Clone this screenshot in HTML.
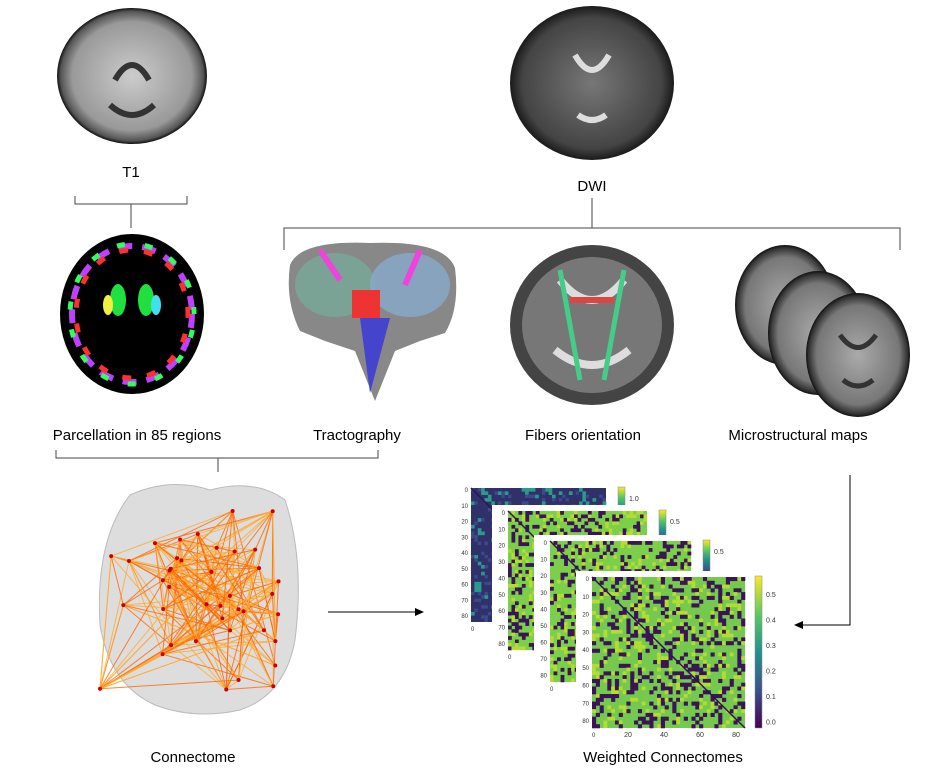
<!DOCTYPE html>
<html><head><meta charset="utf-8"><style>
body{margin:0;background:#fff;width:936px;height:775px;overflow:hidden;font-family:"Liberation Sans",sans-serif}
svg{position:absolute;left:0;top:0}
</style></head><body>
<svg id="s" width="936" height="775" viewBox="0 0 936 775" font-family="Liberation Sans, sans-serif">
<defs>
<radialGradient id="t1" cx="50%" cy="50%" r="50%"><stop offset="0" stop-color="#ccc"/><stop offset="0.8" stop-color="#999"/><stop offset="0.95" stop-color="#555"/><stop offset="1" stop-color="#111"/></radialGradient>
<radialGradient id="dwi" cx="50%" cy="50%" r="50%"><stop offset="0" stop-color="#777"/><stop offset="0.85" stop-color="#444"/><stop offset="1" stop-color="#1a1a1a"/></radialGradient>
<radialGradient id="ms" cx="50%" cy="50%" r="50%"><stop offset="0" stop-color="#aaa"/><stop offset="0.8" stop-color="#777"/><stop offset="0.95" stop-color="#333"/><stop offset="1" stop-color="#111"/></radialGradient>
<linearGradient id="cb" x1="0" y1="1" x2="0" y2="0"><stop offset="0" stop-color="#440154"/><stop offset="0.25" stop-color="#3b528b"/><stop offset="0.5" stop-color="#21918c"/><stop offset="0.75" stop-color="#5ec962"/><stop offset="1" stop-color="#fde725"/></linearGradient>
</defs>
<!-- T1 -->
<ellipse cx="132" cy="76" rx="75" ry="68" fill="url(#t1)"/>
<path d="M115 80 q17 -30 34 0 M110 105 q22 20 44 0" stroke="#333" stroke-width="6" fill="none"/>
<text x="131" y="177" font-size="15" text-anchor="middle">T1</text>
<path d="M75 196 v8 h112 v-8 M131 204 v24" stroke="#444" fill="none"/>
<!-- Parcellation -->
<ellipse cx="132" cy="314" rx="72" ry="80" fill="#000"/>
<ellipse cx="132" cy="314" rx="60" ry="68" fill="none" stroke="#c040ff" stroke-width="6" stroke-dasharray="14 10"/>
<ellipse cx="132" cy="314" rx="56" ry="64" fill="none" stroke="#ff3030" stroke-width="5" stroke-dasharray="9 16" stroke-dashoffset="5"/>
<ellipse cx="132" cy="314" rx="62" ry="70" fill="none" stroke="#30ff60" stroke-width="5" stroke-dasharray="8 20" stroke-dashoffset="12"/>
<ellipse cx="118" cy="300" rx="8" ry="16" fill="#20e040"/><ellipse cx="146" cy="300" rx="8" ry="16" fill="#20e040"/>
<ellipse cx="108" cy="305" rx="5" ry="10" fill="#f0f040"/><ellipse cx="156" cy="305" rx="5" ry="10" fill="#40e0f0"/>
<text x="137" y="440" font-size="15" text-anchor="middle">Parcellation in 85 regions</text>
<!-- DWI -->
<ellipse cx="592" cy="83" rx="82" ry="77" fill="url(#dwi)"/>
<path d="M575 55 q17 30 34 0 M578 115 q14 10 28 0" stroke="#ddd" stroke-width="6" fill="none"/>
<text x="592" y="191" font-size="15" text-anchor="middle">DWI</text>
<path d="M592 198 v30 M284 250 v-22 h616 v22" stroke="#444" fill="none"/>
<!-- Tractography -->
<path d="M290 265 q10 -25 80 -22 q75 -3 85 25 q5 40 -10 65 l-25 8 l-25 10 l-20 50 l-20 -50 l-30 -10 l-25 -10 q-15 -30 -10 -66z" fill="#888"/>
<ellipse cx="335" cy="285" rx="40" ry="32" fill="#7a9" opacity="0.8"/><ellipse cx="410" cy="285" rx="40" ry="32" fill="#8ac" opacity="0.8"/>
<rect x="352" y="290" width="28" height="28" fill="#e33"/>
<path d="M360 318 l10 75 l20 -75z" fill="#44c"/>
<path d="M320 250 l20 30 M420 250 l-15 35" stroke="#e4d" stroke-width="6"/>
<text x="357" y="440" font-size="15" text-anchor="middle">Tractography</text>
<!-- Fibers orientation -->
<ellipse cx="592" cy="325" rx="82" ry="80" fill="#444"/>
<ellipse cx="592" cy="325" rx="70" ry="68" fill="#777"/>
<path d="M560 280 q32 40 64 0 M555 350 q37 30 74 0" stroke="#ddd" stroke-width="8" fill="none"/>
<path d="M560 270 l20 110 M624 270 l-20 110" stroke="#4c8" stroke-width="5"/>
<path d="M570 300 h44" stroke="#d44" stroke-width="6"/>
<text x="583" y="440" font-size="15" text-anchor="middle">Fibers orientation</text>
<!-- Microstructural -->
<ellipse cx="785" cy="305" rx="50" ry="60" fill="url(#ms)"/>
<ellipse cx="818" cy="333" rx="50" ry="62" fill="url(#ms)"/>
<ellipse cx="858" cy="355" rx="52" ry="62" fill="url(#ms)"/>
<path d="M840 335 q18 25 36 0 M843 380 q15 12 30 0" stroke="#333" stroke-width="5" fill="none"/>
<text x="798" y="440" font-size="15" text-anchor="middle">Microstructural maps</text>
<!-- bracket lower -->
<path d="M56 450 v8 h322 v-8 M218 458 v14" stroke="#444" fill="none"/>
<!-- Connectome -->
<path d="M130 495 q40 -18 80 -5 q45 -12 75 10 q20 60 10 140 q-10 55 -55 70 q-45 10 -85 -5 q-45 -20 -55 -80 q-5 -85 30 -130z" fill="#ddd" stroke="#bbb"/>
<g id="cl"></g>
<path d="M328 612 h88" stroke="#000"/><path d="M424 612 l-9 -4 v8z" fill="#000"/>
<text x="193" y="762" font-size="15" text-anchor="middle">Connectome</text>
<!-- matrices -->
<g id="mat"></g>
<path d="M850 475 v150 h-48" stroke="#000" fill="none"/><path d="M794 625 l9 -4 v8z" fill="#000"/>
<text x="663" y="762" font-size="15" text-anchor="middle">Weighted Connectomes</text>
</svg>
<script>
var ns="http://www.w3.org/2000/svg",s=document.getElementById('s');
function el(p,t,a){var e=document.createElementNS(ns,t);for(var k in a)e.setAttribute(k,a[k]);p.appendChild(e);return e}
var seed=7;function r(){seed=(seed*16807)%2147483647;return seed/2147483647}
var cl=document.getElementById('cl'),pts=[];
for(var i=0;i<40;i++)pts.push([100+r()*190,500+r()*205]);
for(i=0;i<260;i++){var a=pts[Math.floor(r()*40)],b=pts[Math.floor(r()*40)];el(cl,'line',{x1:a[0],y1:a[1],x2:b[0],y2:b[1],stroke:r()<0.5?'#f60':'#fa3','stroke-width':1,opacity:0.8})}
pts.forEach(function(p){el(cl,'circle',{cx:p[0],cy:p[1],r:2,fill:'#c00'})});
var m=document.getElementById('mat');
var M=[[471,488,135,134,'#30306a',0.1,'1.0'],[508,511,139,139,'#7ccf4a',0.25,'0.5'],[550,541,141,141,'#7ccf4a',0.25,'0.5'],[592,577,153,151,'#74c94e',0.25,'']];
M.forEach(function(q,k){
 if(k>0)el(m,'rect',{x:q[0]-16,y:q[1]-6,width:q[2]+60,height:q[3]+22,fill:'#fff'});
 el(m,'rect',{x:q[0],y:q[1],width:q[2],height:q[3],fill:q[4]});
 var n=40,c=q[2]/n,d=q[3]/n;
 for(var y=0;y<n;y++)for(var x=0;x<n;x++){var v=r();if(v<q[5])el(m,'rect',{x:q[0]+x*c,y:q[1]+y*d,width:c+0.3,height:d+0.3,fill:k==0?'#2a9a8a':'#3a1456'});else if(v<q[5]+0.15)el(m,'rect',{x:q[0]+x*c,y:q[1]+y*d,width:c,height:d,fill:k==0?'#3c4a8a':'#b5dd30'});}
 el(m,'line',{x1:q[0],y1:q[1],x2:q[0]+q[2],y2:q[1]+q[3],stroke:'#33105a','stroke-width':1.5});
 var cx=q[0]+q[2]+(k==3?10:12),ch=k==3?152:40;
 el(m,'rect',{x:cx,y:q[1]-1,width:7,height:ch,fill:'url(#cb)',stroke:'#888','stroke-width':0.5});
 var t=k==3?['0.5','0.4','0.3','0.2','0.1','0.0']:[q[6]];
 t.forEach(function(s2,j){var yy=k==3?q[1]+17+j*25.5:q[1]+10;el(m,'text',{x:cx+11,y:yy+3,'font-size':7,fill:'#333'}).textContent=s2});
 for(var j=0;j<9;j++){var yy=q[1]+2+j*q[3]/8.5;if(yy>q[1]+q[3])break;el(m,'text',{x:q[0]-3,y:yy+2,'font-size':6,'text-anchor':'end',fill:'#333'}).textContent=j*10;}
 el(m,'text',{x:q[0],y:q[1]+q[3]+9,'font-size':6,fill:'#333'}).textContent='0';
 if(k==3)[20,40,60,80].forEach(function(v){el(m,'text',{x:q[0]+v*q[2]/85,y:q[1]+q[3]+9,'font-size':7,'text-anchor':'middle',fill:'#333'}).textContent=v});
});
</script>
</body></html>
